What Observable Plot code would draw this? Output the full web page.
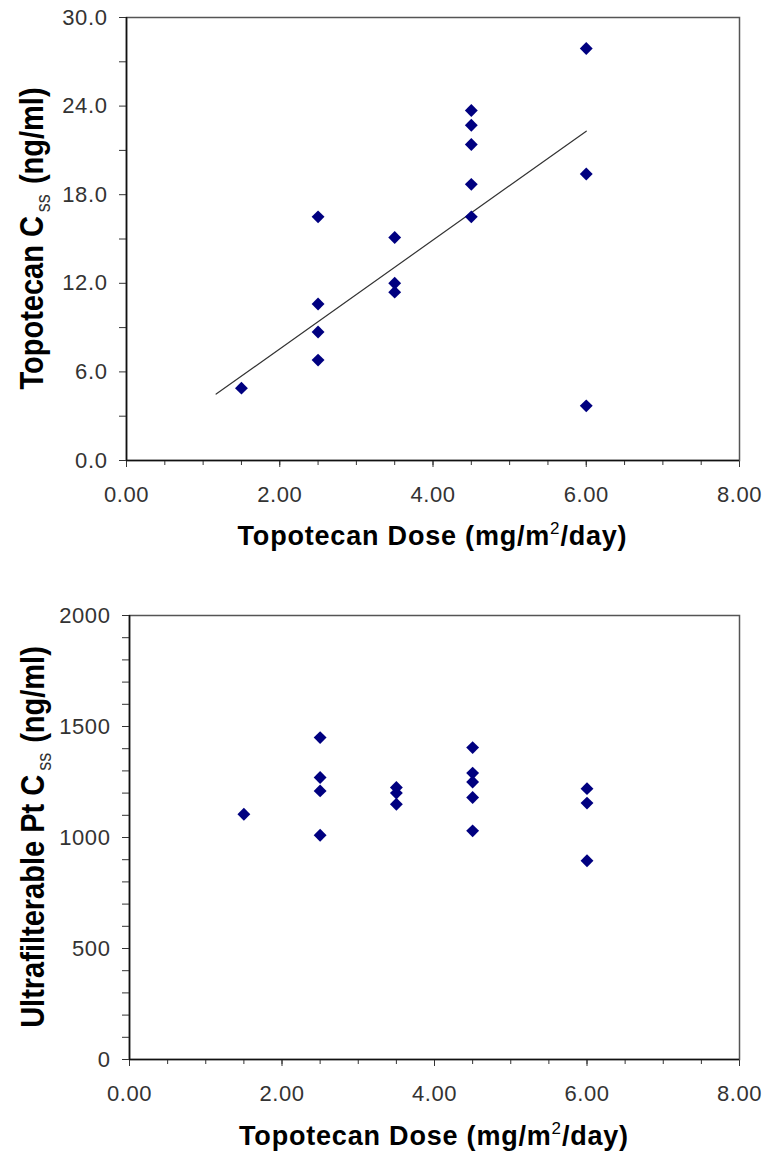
<!DOCTYPE html>
<html><head><meta charset="utf-8">
<script src="https://cdn.jsdelivr.net/npm/d3@7"></script>
<script src="https://cdn.jsdelivr.net/npm/@observablehq/plot@0.6"></script>
<style>
body{margin:0;background:#fff;}
#chart{width:767px;}
svg{display:block;}
</style></head><body><div id="chart"></div>
<script>
// ---- data ----
const doseTop = [1.5, 2.5, 2.5, 2.5, 2.5, 3.5, 3.5, 3.5, 4.5, 4.5, 4.5, 4.5, 4.5, 6.0, 6.0, 6.0];
const topotecanCss = [4.9, 16.5, 10.6, 8.7, 6.8, 15.1, 12.0, 11.4, 23.7, 22.7, 21.4, 18.7, 16.5, 27.9, 19.4, 3.7];
const doseBottom = [1.5, 2.5, 2.5, 2.5, 2.5, 3.5, 3.5, 3.5, 4.5, 4.5, 4.5, 4.5, 4.5, 6.0, 6.0, 6.0];
const ptCss = [1105, 1450, 1270, 1210, 1010, 1225, 1200, 1150, 1405, 1290, 1250, 1180, 1030, 1220, 1155, 895];
const trendDose = [1.17, 6.0];
const trendCss = [4.5, 22.3];
const xTicks = [0, 0.5, 1, 1.5, 2, 2.5, 3, 3.5, 4, 4.5, 5, 5.5, 6, 6.5, 7, 7.5, 8];
const xTickLabels = [0, 2, 4, 6, 8];
const yTicksTop = [0, 3, 6, 9, 12, 15, 18, 21, 24, 27, 30];
const yTickLabelsTop = [0, 6, 12, 18, 24, 30];
const yTicksBottom = [0, 100, 200, 300, 400, 500, 600, 700, 800, 900, 1000, 1100, 1200, 1300, 1400, 1500, 1600, 1700, 1800, 1900, 2000];
const yTickLabelsBottom = [0, 500, 1000, 1500, 2000];
const xTitleMain = "Topotecan Dose (mg/m";
const xTitleSup = "2";
const xTitleEnd = "/day)";
const yTitleTop = ["Topotecan C", "ss", " (ng/ml)"];
const yTitleBottom = ["Ultrafilterable Pt C", "ss", " (ng/ml)"];

const topData = doseTop.map((d, i) => ({dose: d, css: topotecanCss[i]}));
const bottomData = doseBottom.map((d, i) => ({dose: d, css: ptCss[i]}));
const trend = trendDose.map((d, i) => ({dose: d, css: trendCss[i]}));

const tickFont = {fontSize: 22, fontFamily: "'Liberation Sans', Arial, sans-serif"};

function makeChart(o) {
  const svg = Plot.plot({
    width: 767, height: o.height,
    marginLeft: o.marginLeft, marginRight: 28, marginTop: o.marginTop, marginBottom: o.marginBottom,
    style: {fontFamily: "'Liberation Sans', Arial, sans-serif", fontSize: "22px", color: "#333", background: "#fff"},
    x: {domain: [0, 8], label: null},
    y: {domain: o.yDomain, label: null},
    marks: [
      Plot.axisX({ticks: xTicks, tickSize: 5, tickFormat: () => "", label: null}),
      Plot.axisX({ticks: xTickLabels, tickSize: 7, tickPadding: 19, tickFormat: d => d.toFixed(2), label: null, ...tickFont}),
      Plot.axisY({ticks: o.yTicks, tickSize: 7, tickPadding: 12, tickFormat: d => o.yLabels.includes(d) ? o.yFmt(d) : "", label: null, ...tickFont}),
      Plot.frame({stroke: "#555", strokeWidth: 1.5}),
      Plot.ruleX([0], {stroke: "#111", strokeWidth: 1.6}),
      Plot.ruleY([0], {stroke: "#111", strokeWidth: 1.6}),
      ...(o.trend ? [Plot.line(o.trend, {x: "dose", y: "css", stroke: "#333", strokeWidth: 1.2})] : []),
      Plot.dot(o.data, {x: "dose", y: "css", symbol: "diamond2", r: 5.8, fill: "#000080", stroke: "none"})
    ]
  });
  const s = d3.select(svg);
  s.selectAll("g[aria-label='x-axis tick label'], g[aria-label='y-axis tick label']")
    .style("font-size", "22px")
    .style("font-family", "'Liberation Sans', Arial, sans-serif")
    .style("letter-spacing", "0.6px");
  const xr = svg.scale("x").range, yr = svg.scale("y").range;
  const cx = (xr[0] + xr[1]) / 2, cy = (yr[0] + yr[1]) / 2;
  // x title
  const xt = s.append("text")
    .attr("x", cx).attr("y", yr[0] + o.xTitleOffset)
    .attr("text-anchor", "middle")
    .style("font-family", "'Liberation Sans', Arial, sans-serif")
    .style("font-weight", "bold").style("font-size", "27px")
    .style("letter-spacing", "0.8px").attr("fill", "#000");
  xt.append("tspan").text(xTitleMain);
  xt.append("tspan").attr("dy", -11).style("font-size", "17px").style("font-weight", "normal").text(xTitleSup);
  xt.append("tspan").attr("dy", 11).text(xTitleEnd);
  // y title
  const g = s.append("g").attr("transform", `translate(${o.yTitleX},${cy}) rotate(-90) scale(1,1.15)`);
  const yt = g.append("text")
    .attr("text-anchor", "middle")
    .style("font-family", "'Liberation Sans', Arial, sans-serif")
    .style("font-weight", "bold").style("font-size", "29px").attr("fill", "#000");
  yt.append("tspan").text(o.yTitle[0]);
  yt.append("tspan").attr("dx", 4).attr("dy", 6).style("font-size", "18px").style("font-weight", "normal").attr("fill", "#333").text(o.yTitle[1]);
  yt.append("tspan").attr("dx", 2).attr("dy", -6).text(o.yTitle[2]);
  return svg;
}

const chart = document.getElementById("chart");
chart.append(makeChart({
  height: 578, marginTop: 17, marginBottom: 118, marginLeft: 126,
  yDomain: [0, 30], yTicks: yTicksTop, yLabels: yTickLabelsTop, yFmt: d => d.toFixed(1),
  data: topData, trend: trend, yTitle: yTitleTop, yTitleX: 43, xTitleOffset: 85
}));
chart.append(makeChart({
  height: 577, marginTop: 37, marginBottom: 96, marginLeft: 129,
  yDomain: [0, 2000], yTicks: yTicksBottom, yLabels: yTickLabelsBottom, yFmt: d => String(d),
  data: bottomData, trend: null, yTitle: yTitleBottom, yTitleX: 44, xTitleOffset: 86
}));
</script>
</body></html>
